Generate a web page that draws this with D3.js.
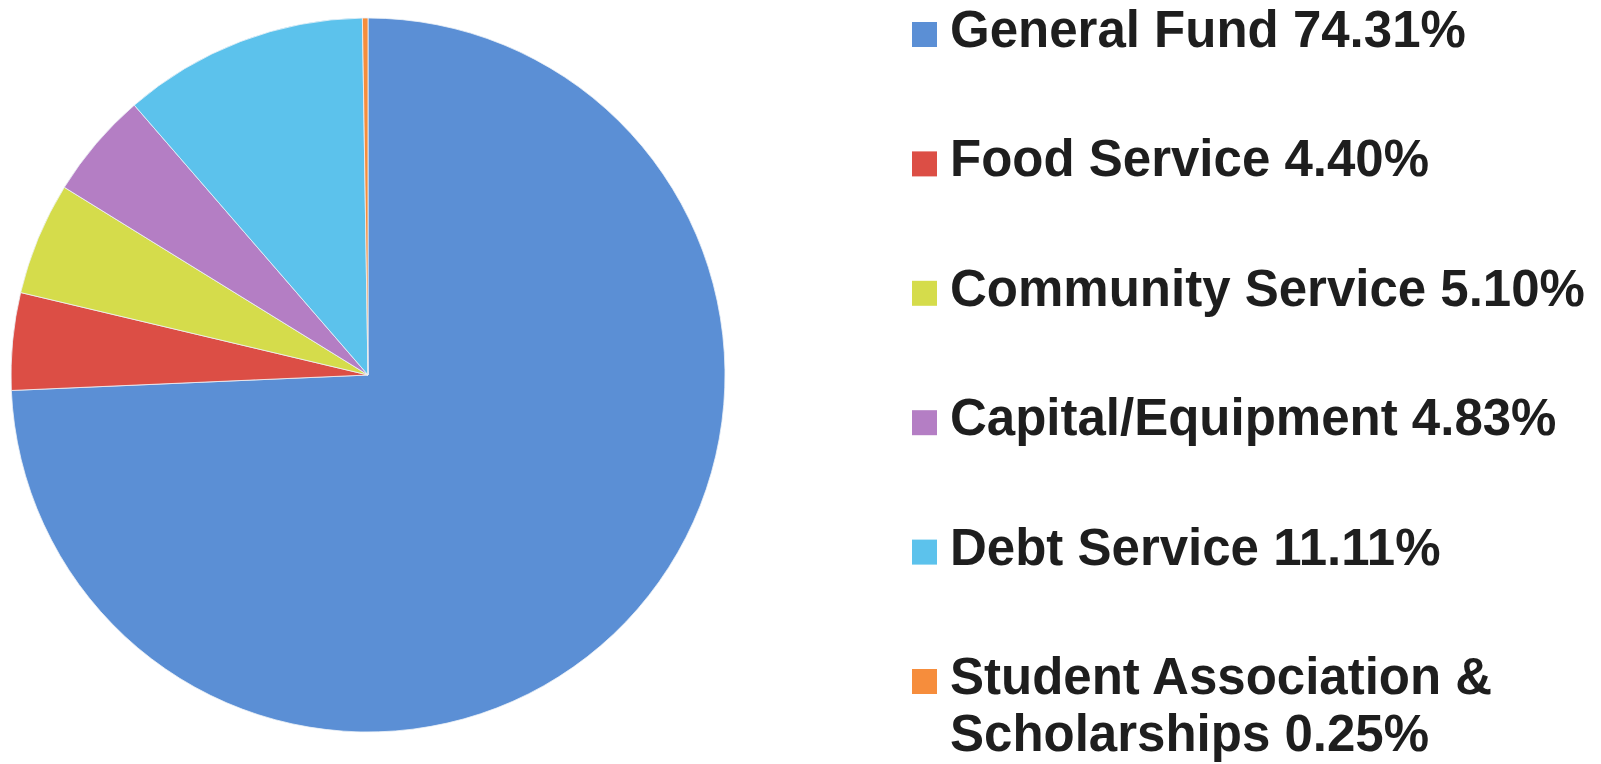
<!DOCTYPE html>
<html>
<head>
<meta charset="utf-8">
<script src="https://cdn.jsdelivr.net/npm/d3@7"></script>
<style>
  body { margin: 0; background: #fff; }
  svg { display: block; }
  .legend-text { font-family: "Liberation Sans", Arial, sans-serif; font-weight: bold; fill: #1e1e1e; }
</style>
</head>
<body>
<div id="chart"></div>
<script>
// data
var categories = ["General Fund", "Food Service", "Community Service", "Capital/Equipment", "Debt Service", "Student Association & Scholarships"]
var percents = [74.31, 4.40, 5.10, 4.83, 11.11, 0.25]
var colors = ["#5b8fd5", "#dc4e45", "#d5dc4b", "#b47ec4", "#5cc2ec", "#f68d3c"]

var width = 1601
var height = 764

var svg = d3.select("#chart")
    .append("svg")
    .attr("width", width)
    .attr("height", height)

// pie
var cx = 368, cy = 375, radius = 357

var pie = d3.pie()
    .sort(null)
    .value((d) => d)

var arc = d3.arc()
    .innerRadius(0)
    .outerRadius(radius)

svg.append("g")
    .attr("transform", "translate(" + cx + "," + cy + ")")
    .selectAll("path")
    .data(pie(percents))
    .enter()
    .append("path")
    .attr("d", arc)
    .attr("fill", (d, i) => colors[i])
    .attr("stroke", "#eef3f8")
    .attr("stroke-width", 0.8)

// legend
var fontSize = 51
var textX = 950
var rowY = d3.scaleLinear()
    .domain([0, categories.length - 1])
    .range([47, 694])

var legend = svg.append("g")
    .selectAll("g")
    .data(categories)
    .enter()
    .append("g")
    .attr("transform", (d, i) => "translate(0," + rowY(i) + ")")

legend.append("rect")
    .attr("x", 912)
    .attr("y", -25)
    .attr("width", 25)
    .attr("height", 25)
    .attr("fill", (d, i) => colors[i])

legend.append("text")
    .attr("class", "legend-text")
    .attr("x", textX)
    .attr("font-size", fontSize + "px")
    .each(function(d, i) {
        var label = d + " " + percents[i].toFixed(2) + "%"
        var t = d3.select(this)
        if (d.indexOf("&") >= 0) {
            // wrap after the ampersand
            var cut = label.indexOf("&") + 1
            t.append("tspan").attr("x", textX).attr("dy", 0).text(label.slice(0, cut))
            t.append("tspan").attr("x", textX).attr("dy", 57).text(label.slice(cut + 1))
        } else {
            t.text(label)
        }
    })
</script>
</body>
</html>
